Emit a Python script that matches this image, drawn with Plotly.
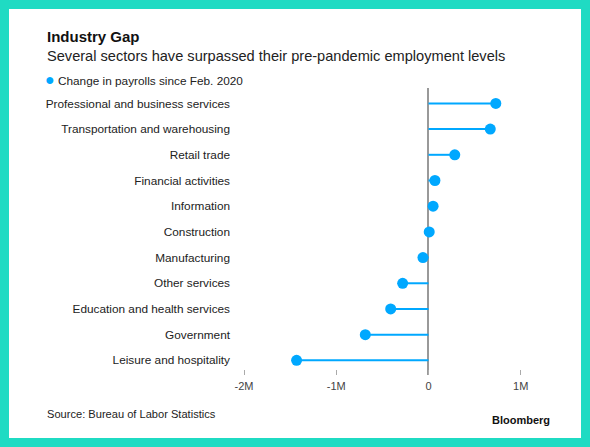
import plotly.graph_objects as go

# %% data (jobs change since Feb. 2020)
sectors = [
    "Professional and business services",
    "Transportation and warehousing",
    "Retail trade",
    "Financial activities",
    "Information",
    "Construction",
    "Manufacturing",
    "Other services",
    "Education and health services",
    "Government",
    "Leisure and hospitality",
]
payroll_change = [730000, 670000, 285000, 70000, 50000, 8000,
                  -60000, -280000, -410000, -685000, -1430000]

tick_vals = [-2000000, -1000000, 0, 1000000]
tick_text = ["-2M", "-1M", "0", "1M"]

# %% pixel helpers
# the page body has an 8px margin, so the figure is drawn 8px in from the
# window corner; positions below are window pixels and get shifted back
OFF = 8
W, H = 590 - OFF, 447 - OFF
PL, PR, PT, PB = 236, 560, 88, 375   # plot area in window pixels
L, T = PL - OFF, PT - OFF
R, B = W - (PR - OFF), H - (PB - OFF)
pw, ph = W - L - R, H - T - B


def px(x):
    return (x - OFF - L) / pw


def py(y):
    return (H - B - (y - OFF)) / ph


BLUE = "#00a8ff"
TEAL = "#1fdbc3"
FONT = "Liberation Sans, Arial, sans-serif"

# stems: 0 -> value for every sector
stem_x, stem_y = [], []
for s, v in zip(sectors, payroll_change):
    stem_x += [0, v, None]
    stem_y += [s, s, None]

fig = go.Figure()
fig.add_trace(go.Scatter(x=stem_x, y=stem_y, mode="lines",
                         line=dict(color=BLUE, width=2), hoverinfo="skip",
                         showlegend=False))
fig.add_trace(go.Scatter(x=payroll_change, y=sectors, mode="markers",
                         marker=dict(color=BLUE, size=11),
                         name="Change in payrolls since Feb. 2020",
                         showlegend=False))

fig.update_layout(
    width=W, height=H,
    margin=dict(l=L, r=R, t=T, b=B),
    paper_bgcolor=TEAL,
    plot_bgcolor="white",
    font=dict(family=FONT, color="#222"),
    shapes=[dict(type="rect", xref="paper", yref="paper", layer="below",
                 x0=px(9), x1=px(581), y0=py(438), y1=py(9),
                 fillcolor="white", line=dict(width=0))],
)

fig.update_xaxes(
    range=[-2087000, 1426000],
    tickvals=tick_vals, ticktext=tick_text,
    ticks="inside", ticklen=5, tickwidth=1, tickcolor="#aaaaaa",
    tickfont=dict(size=11, color="#444"),
    ticklabelstandoff=3,
    showgrid=False, showline=False, automargin=False,
    zeroline=True, zerolinecolor="#999999", zerolinewidth=1.5,
)
fig.update_yaxes(
    type="category", categoryorder="array", categoryarray=sectors,
    range=[10.57, -0.6],
    showgrid=False, zeroline=False, showline=False, ticks="",
    tickfont=dict(size=11.8, color="#222"),
    ticklabelstandoff=5, automargin=False,
)

# titles, legend, source
fig.add_annotation(x=px(45), y=py(37), xref="paper", yref="paper",
                   xanchor="left", yanchor="middle", showarrow=False,
                   text="<b>Industry Gap</b>", font=dict(size=15, color="#111"))
fig.add_annotation(x=px(45), y=py(56), xref="paper", yref="paper",
                   xanchor="left", yanchor="middle", showarrow=False,
                   text="Several sectors have surpassed their pre-pandemic employment levels",
                   font=dict(size=14.6, color="#222"))
fig.add_annotation(x=px(43), y=py(79), xref="paper", yref="paper",
                   xanchor="left", yanchor="middle", showarrow=False,
                   text=f"<span style='color:{BLUE};font-size:16px'>●</span> Change in payrolls since Feb. 2020",
                   font=dict(size=11.8, color="#222"))
fig.add_annotation(x=px(45), y=py(414), xref="paper", yref="paper",
                   xanchor="left", yanchor="middle", showarrow=False,
                   text="Source: Bureau of Labor Statistics",
                   font=dict(size=11.1, color="#222"))
fig.add_annotation(x=px(552), y=py(420), xref="paper", yref="paper",
                   xanchor="right", yanchor="middle", showarrow=False,
                   text="<b>Bloomberg</b>",
                   font=dict(size=11, color="#111"))

# page margin shows around the figure: paint it the frame colour
fig.write_html("out.html",
               post_script=f"document.body.style.background='{TEAL}';")
